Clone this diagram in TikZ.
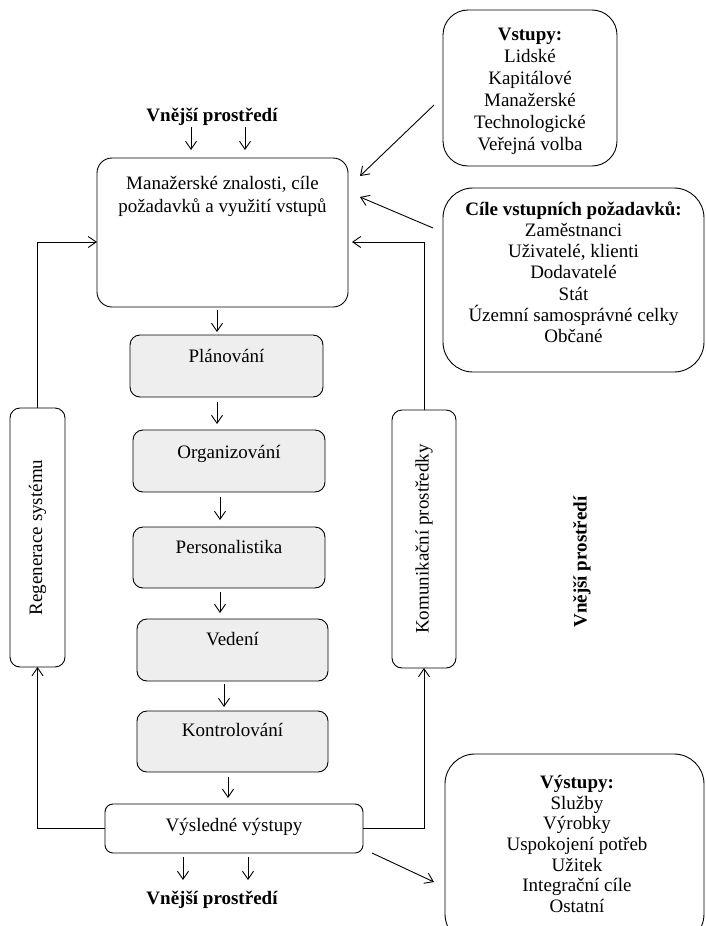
\documentclass[tikz,border=0pt]{standalone}
\usepackage{fontspec}
\setmainfont{Liberation Serif}
\usetikzlibrary{arrows.meta,calc}
\definecolor{procfill}{RGB}{238,238,238}
\begin{document}
\begin{tikzpicture}[x=1pt,y=-1pt,
  every node/.style={inner sep=0pt,outer sep=0pt,font=\fontsize{19}{23}\selectfont},
  rbox/.style={draw,line width=0.9pt,rounded corners=#1,anchor=north west},
  proc/.style={rbox=10pt,fill=procfill,minimum width=#1,minimum height=62pt},
  arr/.style={line width=0.9pt,-{Straight Barb[length=8pt,width=11pt,line width=0.9pt]}},
  conn/.style={line width=0.9pt}]
\useasboundingbox (0,0) rectangle (706,926);
\clip (0,0) rectangle (706,926);
% boxes
\node[rbox=15pt,minimum width=251pt,minimum height=149pt] (main) at (97,158) {};
\node[proc=193pt] (plan) at (130,335) {};
\node[proc=192pt] (org) at (133,430) {};
\node[proc=192pt,minimum height=61pt] (pers) at (133,527) {};
\node[proc=191pt] (ved) at (137,619) {};
\node[proc=191pt,minimum height=61pt] (kon) at (137,711) {};
\node[rbox=8pt,minimum width=258pt,minimum height=49pt] (vysl) at (105,804) {};
\node[rbox=10pt,minimum width=55pt,minimum height=259pt] (regen) at (10,408) {};
\node[rbox=10pt,minimum width=64pt,minimum height=258pt] (kom) at (392,410) {};
\node[rbox=25pt,minimum width=174pt,minimum height=156pt] (vstupy) at (443,10) {};
\node[rbox=30pt,minimum width=261pt,minimum height=184pt] (cile) at (443,188) {};
\node[rbox=30pt,minimum width=259pt,minimum height=190pt] (vystupy) at (445,754) {};
% texts
\node[anchor=base,font=\fontsize{19}{23}\selectfont\bfseries] (envtop) at (212,121) {Vnější prostředí};
\node[anchor=north,align=center] (maint) at (222.5,176.5) {Manažerské znalosti, cíle\\požadavků a využití vstupů};
\node[anchor=base] (plant) at (226.5,362) {Plánování};
\node[anchor=base] (orgt) at (229,458) {Organizování};
\node[anchor=base] (perst) at (229,553) {Personalistika};
\node[anchor=base] (vedt) at (232.5,645) {Vedení};
\node[anchor=base] (kont) at (232.5,736) {Kontrolování};
\node[anchor=base] (vyslt) at (234,831) {Výsledné výstupy};
\node[anchor=base,font=\fontsize{19}{23}\selectfont\bfseries] (envbot) at (212,904) {Vnější prostředí};
\node[rotate=90] (regent) at (37.5,537.5) {Regenerace systému};
\node[rotate=90] (komt) at (424,539) {Komunikační prostředky};
\node[rotate=90,font=\fontsize{19}{23}\selectfont\bfseries] (envright) at (582,562) {Vnější prostředí};
\node[anchor=north,align=center,font=\fontsize{19}{22}\selectfont] (vstupyt) at (530,28.5)
  {\textbf{Vstupy:}\\Lidské\\Kapitálové\\Manažerské\\Technologické\\Veřejná volba};
\node[anchor=north,align=center,font=\fontsize{19}{21.2}\selectfont] (cilet) at (573.5,201.5)
  {\textbf{Cíle vstupních požadavků:}\\Zaměstnanci\\Uživatelé, klienti\\Dodavatelé\\Stát\\Územní samosprávné celky\\Občané};
\node[anchor=north,align=center,font=\fontsize{19}{20.6}\selectfont] (vystupyt) at (577,775.5)
  {\textbf{Výstupy:}\\Služby\\Výrobky\\Uspokojení potřeb\\Užitek\\Integrační cíle\\Ostatní};
% chain arrows
\draw[arr] ([shift={(-5.5pt,-3pt)}]main.south) -- ([shift={(-9.5pt,3pt)}]plan.north);
\draw[arr] ([shift={(-9.5pt,-5pt)}]plan.south) -- ([shift={(-12pt,6pt)}]org.north);
\draw[arr] ([shift={(-9pt,-5pt)}]org.south) -- ([shift={(-9pt,7pt)}]pers.north);
\draw[arr] ([shift={(-9pt,-4pt)}]pers.south) -- ([shift={(-12.5pt,6pt)}]ved.north);
\draw[arr] ([shift={(-8.5pt,-3pt)}]ved.south) -- ([shift={(-8.5pt,4pt)}]kon.north);
\draw[arr] ([shift={(-4.5pt,-5pt)}]kon.south) -- ([shift={(-6pt,6pt)}]vysl.north);
% environment arrows
\draw[arr] ([shift={(-31.5pt,31pt)}]main.north) -- ([shift={(-31.5pt,8pt)}]main.north);
\draw[arr] ([shift={(22.5pt,31pt)}]main.north) -- ([shift={(22.5pt,8pt)}]main.north);
\draw[arr] ([shift={(-51pt,-4pt)}]vysl.south) -- ([shift={(-51pt,-27pt)}]vysl.south);
\draw[arr] ([shift={(14pt,-4pt)}]vysl.south) -- ([shift={(14pt,-27pt)}]vysl.south);
% loops
\draw[arr] (vysl.west) -| (regen.south);
\draw[arr] (regen.north) |- ([yshift=-9.5pt]main.west);
\draw[arr] (vysl.east) -| (kom.south);
\draw[arr] (kom.north) |- ([shift={(4pt,-9.5pt)}]main.east);
% diagonals
\draw[arr] ([shift={(-9pt,-17pt)}]vstupy.west) -- ([shift={(12pt,-18pt)}]main.north east);
\draw[arr] ([shift={(-10pt,52pt)}]cile.west) -- ([shift={(12pt,35.5pt)}]main.east);
\draw[arr] ([shift={(9pt,0pt)}]vysl.south east) -- ([shift={(-11pt,-128pt)}]vystupy.north west);
\end{tikzpicture}
\end{document}
